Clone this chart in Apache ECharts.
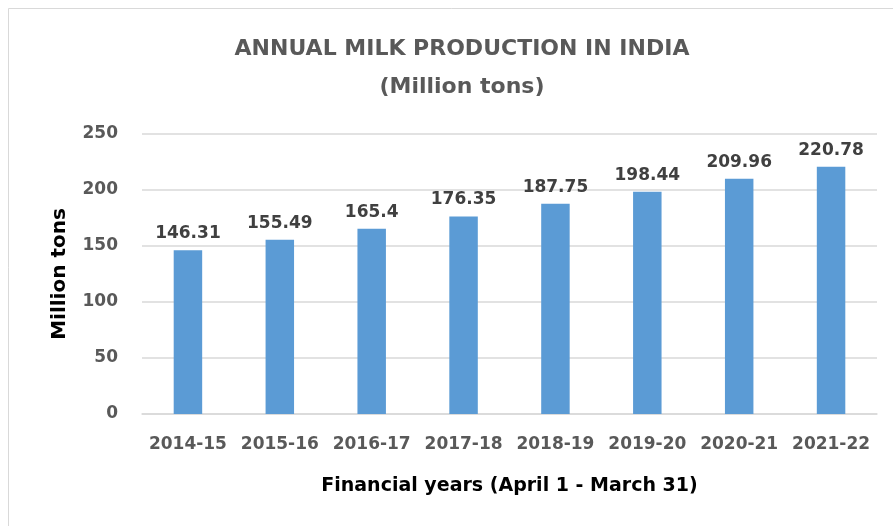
<!DOCTYPE html>
<html>
<head>
<meta charset="utf-8">
<script src="https://cdn.jsdelivr.net/npm/echarts@6/dist/echarts.min.js"></script>
<style>
html,body{margin:0;padding:0;background:#fff;}
#chart{width:893px;height:526px;}
</style>
</head>
<body>
<div id="chart"></div>
<script>
var categories = ['2014-15','2015-16','2016-17','2017-18','2018-19','2019-20','2020-21','2021-22'];
var production = [146.31, 155.49, 165.4, 176.35, 187.75, 198.44, 209.96, 220.78];
var yTicks = [0, 50, 100, 150, 200, 250];
var labelText = ['146.31','155.49','165.4','176.35','187.75','198.44','209.96','220.78'];

var FONT = '"DejaVu Sans", sans-serif';
var chart = echarts.init(document.getElementById('chart'));
chart.setOption({
  backgroundColor: '#ffffff',
  animation: false,
  graphic: [{
    type: 'rect',
    shape: {x: 8.5, y: 8.5, width: 900, height: 530},
    style: {fill: 'none', stroke: '#d9d9d9', lineWidth: 1},
    silent: true
  }],
  title: {
    text: 'ANNUAL MILK PRODUCTION IN INDIA\n(Million tons)',
    left: 457,
    top: 25,
    textAlign: 'center',
    textStyle: {
      fontFamily: FONT,
      fontWeight: 'bold',
      fontSize: 22,
      color: '#595959',
      lineHeight: 38
    }
  },
  grid: {left: 142, right: 16, top: 134, bottom: 112},
  xAxis: {
    type: 'category',
    data: categories,
    name: 'Financial years (April 1 - March 31)',
    nameLocation: 'middle',
    nameGap: 63,
    nameTextStyle: {fontFamily: FONT, fontWeight: 'bold', fontSize: 19, color: '#000000'},
    axisLine: {show: true, lineStyle: {color: '#d9d9d9', width: 1.5}},
    axisTick: {show: false},
    axisLabel: {interval: 0, fontFamily: FONT, fontWeight: 'bold', fontSize: 17, color: '#595959', margin: 22}
  },
  yAxis: {
    type: 'value',
    min: yTicks[0],
    max: yTicks[yTicks.length - 1],
    interval: 50,
    name: 'Million tons',
    nameLocation: 'middle',
    nameGap: 72,
    nameRotate: 90,
    nameTextStyle: {fontFamily: FONT, fontWeight: 'bold', fontSize: 20, color: '#000000'},
    axisLine: {show: false},
    axisTick: {show: false},
    splitLine: {lineStyle: {color: '#d9d9d9', width: 1.5}},
    axisLabel: {fontFamily: FONT, fontWeight: 'bold', fontSize: 17, color: '#595959', margin: 24}
  },
  series: [{
    type: 'bar',
    data: production,
    barWidth: '31%',
    itemStyle: {color: '#5b9bd5'},
    label: {
      show: true,
      position: 'top',
      distance: 8,
      fontFamily: FONT,
      fontWeight: 'bold',
      fontSize: 17,
      color: '#404040',
      formatter: function (p) { return labelText[p.dataIndex]; }
    }
  }]
});
</script>
</body>
</html>
